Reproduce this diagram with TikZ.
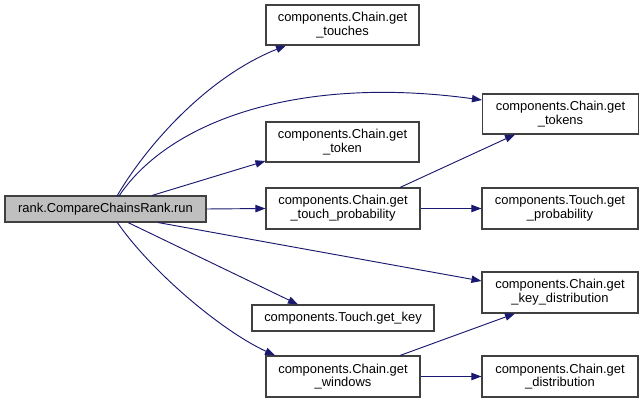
\documentclass[tikz,border=0pt]{standalone}
\usepackage{fontspec}
\setmainfont{Liberation Sans}
\usetikzlibrary{arrows.meta}
\definecolor{edgeblue}{HTML}{191970}
\definecolor{rootgray}{HTML}{BFBFBF}
\begin{document}
\begin{tikzpicture}[x=0.75pt,y=-0.75pt,
  fn/.style={draw=black!75,line width=0.8pt,fill=white,align=center,inner sep=0pt,
    font=\fontsize{9.7}{10.3}\selectfont,minimum width=117pt,minimum height=30.75pt},
  fnone/.style={fn,minimum height=19.5pt},
  call/.style={draw=edgeblue,line width=0.7pt,-{Triangle[length=7.5pt,width=5.5pt]}}]
\useasboundingbox (0,0) rectangle (643,403);
\node[fnone,fill=rootgray,minimum width=150.75pt] (root) at (105.5,209) {rank.CompareChainsRank.run};
\node[fn,minimum width=114.75pt,minimum height=30pt] (touches) at (342.5,25) {components.Chain.get\\\_touches};
\node[fn,minimum height=30pt] (tokens) at (560.5,114) {components.Chain.get\\\_tokens};
\node[fn,minimum width=114.75pt,minimum height=30pt] (token) at (342.5,142) {components.Chain.get\\\_token};
\node[fn,minimum width=115.5pt] (tprob) at (343,208.5) {components.Chain.get\\\_touch\_probability};
\node[fn] (Tprob) at (560,208.5) {components.Touch.get\\\_probability};
\node[fn] (keydist) at (560,292.5) {components.Chain.get\\\_key\_distribution};
\node[fnone,minimum width=136.5pt] (getkey) at (343,318) {components.Touch.get\_key};
\node[fn,minimum width=115.5pt] (windows) at (343,376.5) {components.Chain.get\\\_windows};
\node[fn] (dist) at (560,376.5) {components.Chain.get\\\_distribution};

\coordinate (rt1) at (117,196);
\coordinate (rt2) at (119,196);
\coordinate (rb1) at (117,222);
\draw[call] (rt1) .. controls (145,148) and (205,78) .. (touches.south west -| 286,0);
\draw[call] (rt2) .. controls (170,120) and (300,75) .. (tokens.west |- 0,100);
\draw[call] (root.north -| 152,0) -- (token.west |- 0,161);
\draw[call] (root.east) -- (tprob.west);
\draw[call] (root.south -| 158,0) -- (keydist.west |- 0,281);
\draw[call] (root.south -| 128,0) -- (getkey.north -| 298,0);
\draw[call] (rb1) .. controls (150,270) and (220,330) .. (windows.north -| 275,0);
\draw[call] (tprob.north -| 400,0) -- (tokens.south -| 515,0);
\draw[call] (tprob.east) -- (Tprob.west);
\draw[call] (windows.north -| 400,0) -- (keydist.south -| 515,0);
\draw[call] (windows.east) -- (dist.west);
\end{tikzpicture}
\end{document}
